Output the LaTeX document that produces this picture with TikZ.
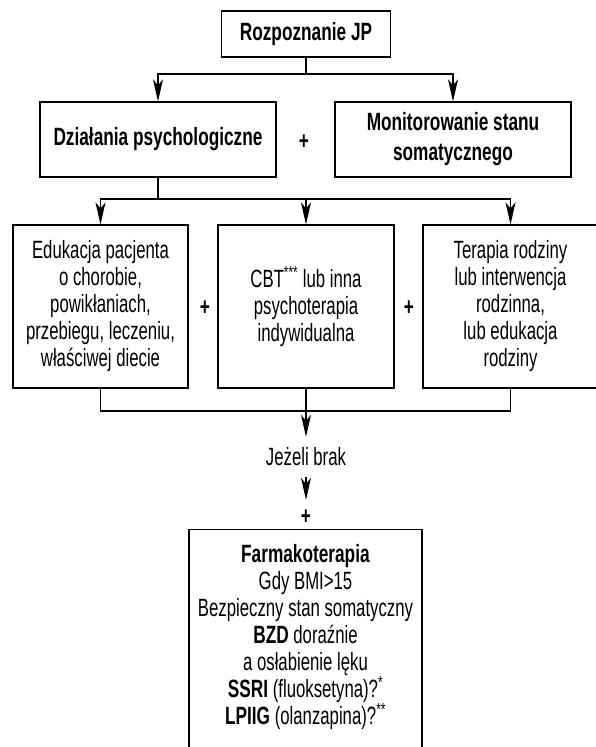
\documentclass[tikz,border=0pt]{standalone}
\usepackage{fontspec}
\setmainfont[FakeStretch=0.67, BoldFeatures={FakeStretch=0.69}]{Liberation Sans}
\usetikzlibrary{arrows.meta, positioning, calc}

\begin{document}
\begin{tikzpicture}[
    x=1pt, y=-1pt,
    box/.style={draw, line width=1.2pt, align=center, font=\fontsize{25}{27}\selectfont},
    bbox/.style={box, font=\fontsize{25}{30}\selectfont\bfseries},
    plus/.style={font=\fontsize{25}{27}\selectfont\bfseries, inner sep=0pt, minimum height=34pt},
    arrow/.style={-{Stealth[length=22pt, width=10pt, inset=6pt]}, line width=1.2pt},
    line/.style={line width=1.2pt}
]
\useasboundingbox (0,0) rectangle (596,747);

% poziom 1
\node[bbox, minimum width=169pt, minimum height=46pt] (diag) at (306, 34) {Rozpoznanie JP};

% poziom 2
\node[bbox, minimum width=236pt, minimum height=75pt] (psych) at (158, 139.5) {Działania psychologiczne};
\node[plus] (plus1) at (304, 142) {+};
\node[bbox, minimum width=236pt, minimum height=75pt] (somat) at (453, 139.5) {Monitorowanie stanu\\somatycznego};

\coordinate (split1) at (306, 74);
\draw[line] (diag) -- (split1);
\draw[arrow] (split1) -| (psych.north);
\draw[arrow] (split1) -| (somat.north);

% poziom 3
\node[box, minimum width=175pt, minimum height=163pt] (edu) at (100.5, 306.5)
    {Edukacja pacjenta\\o chorobie,\\powikłaniach,\\przebiegu, leczeniu,\\właściwej diecie};
\node[plus] (plus2) at (205, 308) {+};
\node[box, minimum width=176pt, minimum height=163pt] (cbt) at (306, 306.5)
    {CBT\textsuperscript{***} lub inna\\psychoterapia\\indywidualna};
\node[plus] (plus3) at (409, 308) {+};
\node[box, minimum width=175pt, minimum height=163pt] (rodz) at (510.5, 306.5)
    {Terapia rodziny\\lub interwencja\\rodzinna,\\lub edukacja\\rodziny};

\coordinate (split2) at (158, 199);
\draw[line] (psych) -- (split2);
\draw[arrow] (split2) -| (edu.north);
\draw[arrow] (split2) -| (cbt.north);
\draw[arrow] (split2) -| (rodz.north);

\coordinate (merge) at (306, 411);
\draw[line] (edu.south) |- (merge) -| (rodz.south);

% poziom 4
\node[font=\fontsize{25}{27}\selectfont, inner sep=0pt, minimum height=40pt] (brak) at (306, 457) {Jeżeli brak};
\draw[arrow] (cbt.south) -- (brak.north);
\node[plus] (plus4) at (306, 517) {+};
\draw[arrow] (brak.south) -- (plus4.north);

\node[box, minimum width=233pt, anchor=north, inner ysep=15pt] (farm) at (305.5, 529)
    {\textbf{Farmakoterapia}\\Gdy BMI>15\\Bezpieczny stan somatyczny\\\textbf{BZD} doraźnie\\a osłabienie lęku\\
     \textbf{SSRI} (fluoksetyna)?\textsuperscript{*}\\\textbf{LPIIG} (olanzapina)?\textsuperscript{**}\\[20pt]};

\end{tikzpicture}
\end{document}
